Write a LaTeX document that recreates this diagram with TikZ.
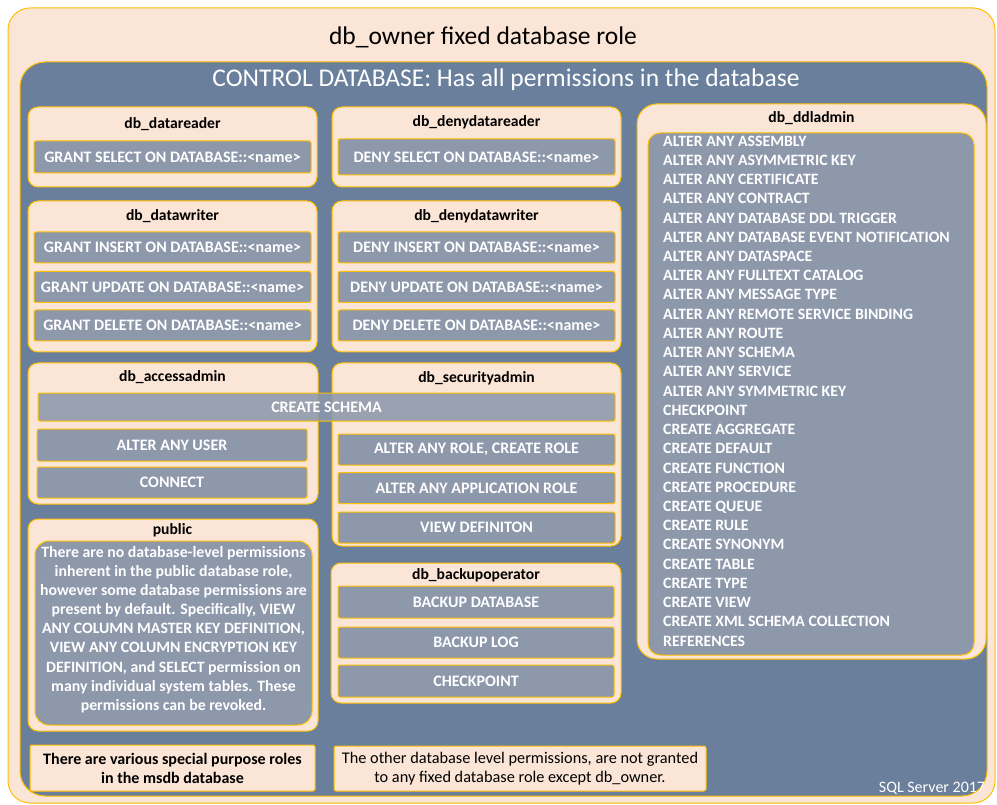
\documentclass[tikz,border=0pt]{standalone}
\usepackage{fontspec}
\setmainfont{Carlito}
\definecolor{peach}{HTML}{FBE5D6}
\definecolor{gold}{HTML}{FFC000}
\definecolor{slate}{HTML}{6A7F9C}
\definecolor{itemgray}{HTML}{8D98AB}
\tikzset{
  rolebox/.style={draw=gold, fill=peach, line width=1pt, rounded corners=10pt},
  rolename/.style={font=\bfseries\fontsize{15.6}{18}\selectfont, inner sep=0pt},
  permbox/.style={draw=gold, fill=itemgray, line width=1pt, rounded corners=2pt,
    text=white, font=\bfseries\fontsize{16}{18}\selectfont, inner sep=0pt,
    minimum width=277pt, minimum height=31pt},
  notebox/.style={draw=gold, fill=peach, line width=1pt, rounded corners=2pt,
    align=center, inner sep=0pt},
}
\begin{document}
\begin{tikzpicture}[x=1pt, y=-1pt]
  \useasboundingbox (0,0) rectangle (997,805);
  \fill[white] (0,0) rectangle (997,805);
  % outer db_owner frame
  \draw[rolebox, rounded corners=22pt] (8,8) rectangle (995,803);
  \node[font=\fontsize{25.5}{30}\selectfont] (owner) at (483,37) {db\_owner  fixed  database  role};
  \draw[draw=gold, fill=slate, line width=1pt, rounded corners=25pt] (20,62) rectangle (987,796);
  \node[text=white, font=\fontsize{25.5}{30}\selectfont] (control) at (506,80) {CONTROL DATABASE:  Has all  permissions  in  the database};

  % db_datareader
  \draw[rolebox] (28,107) rectangle (317,187);
  \node[rolename] (reader) at (172.5,124) {db\_datareader};
  \node[permbox, minimum height=32pt] (grsel) at (172.5,157) {GRANT SELECT  ON  DATABASE::<name>};

  % db_denydatareader
  \draw[rolebox] (332,107) rectangle (621,187);
  \node[rolename] (denyreader) at (476.5,122) {db\_denydatareader};
  \node[permbox, minimum height=36pt] (dnsel) at (476.5,157) {DENY SELECT ON  DATABASE::<name>};

  % db_datawriter
  \draw[rolebox] (28,201) rectangle (317,352);
  \node[rolename] (writer) at (172.5,216) {db\_datawriter};
  \node[permbox] (grins) at (172.5,247.5) {GRANT INSERT  ON DATABASE::<name>};
  \node[permbox] (grupd) at (172.5,287) {GRANT UPDATE  ON DATABASE::<name>};
  \node[permbox] (grdel) at (172.5,325.5) {GRANT DELETE  ON DATABASE::<name>};

  % db_denydatawriter
  \draw[rolebox] (332,201) rectangle (621,352);
  \node[rolename] (denywriter) at (476.5,216) {db\_denydatawriter};
  \node[permbox] (dnins) at (476.5,247.5) {DENY INSERT  ON DATABASE::<name>};
  \node[permbox] (dnupd) at (476.5,287) {DENY UPDATE  ON DATABASE::<name>};
  \node[permbox] (dndel) at (476.5,325.5) {DENY DELETE  ON DATABASE::<name>};

  % db_accessadmin
  \draw[rolebox] (28,363) rectangle (318,504);
  \node[rolename] (access) at (172.5,377) {db\_accessadmin};
  \node[permbox, minimum width=270pt, minimum height=32pt] (altuser) at (172,445) {ALTER ANY USER};
  \node[permbox, minimum width=270pt] (connect) at (172,482.5) {CONNECT};

  % db_securityadmin
  \draw[rolebox] (332,363) rectangle (621,546);
  \node[rolename] (security) at (476.5,378) {db\_securityadmin};
  \node[permbox] (altrole) at (476.5,449.5) {ALTER ANY ROLE,  CREATE  ROLE};
  \node[permbox] (altapp) at (476.5,488) {ALTER ANY APPLICATION  ROLE};
  \node[permbox] (viewdef) at (476.5,527.5) {VIEW  DEFINITON};

  % shared by accessadmin and securityadmin
  \node[permbox, fill opacity=0.88, text opacity=1, minimum width=577pt, minimum height=28pt] (schema) at (326.5,407) {CREATE  SCHEMA};

  % public
  \draw[rolebox] (28,519) rectangle (318,731);
  \node[rolename] (public) at (172.5,530) {public};
  \draw[draw=gold, fill=itemgray, line width=1pt, rounded corners=14pt] (35,541) rectangle (312,725);
  \node[align=center, text=white, font=\bfseries\fontsize{15.8}{19.1}\selectfont] (pubtext) at (173.5,629.5)
    {There are no database-level  permissions\\ inherent in the public  database  role,\\
     however some database permissions are\\ present by default. Specifically,  VIEW\\
     ANY COLUMN  MASTER  KEY DEFINITION,\\ VIEW ANY COLUMN  ENCRYPTION  KEY\\
     DEFINITION,  and SELECT  permission on\\ many individual  system tables. These\\
     permissions can be revoked.};

  % db_backupoperator
  \draw[rolebox] (331,563) rectangle (621,703);
  \node[rolename] (backup) at (476,575) {db\_backupoperator};
  \node[permbox, minimum width=276pt, minimum height=32pt] (bkdb) at (476,602) {BACKUP  DATABASE};
  \node[permbox, minimum width=276pt] (bklog) at (476,642.5) {BACKUP  LOG};
  \node[permbox, minimum width=276pt, minimum height=32pt] (chkpt) at (476,681) {CHECKPOINT};

  % db_ddladmin
  \draw[rolebox, rounded corners=20pt] (637,104) rectangle (986,659);
  \node[rolename] (ddl) at (811.5,118) {db\_ddladmin};
  \draw[draw=gold, fill=itemgray, line width=1pt, rounded corners=12pt] (648,133) rectangle (974,655);
  \node[anchor=west, align=left, inner sep=0pt, text=white, font=\bfseries\fontsize{15.8}{19.23}\selectfont] (ddllist) at (663,391)
    {ALTER ANY ASSEMBLY\\ ALTER ANY ASYMMETRIC  KEY\\ ALTER ANY CERTIFICATE\\ ALTER ANY CONTRACT\\
     ALTER ANY DATABASE  DDL TRIGGER\\ ALTER ANY DATABASE  EVENT  NOTIFICATION\\ ALTER ANY DATASPACE\\
     ALTER ANY FULLTEXT  CATALOG\\ ALTER ANY MESSAGE  TYPE\\ ALTER ANY REMOTE  SERVICE  BINDING\\
     ALTER ANY ROUTE\\ ALTER ANY SCHEMA\\ ALTER ANY SERVICE\\ ALTER ANY SYMMETRIC  KEY\\ CHECKPOINT\\
     CREATE  AGGREGATE\\ CREATE  DEFAULT\\ CREATE  FUNCTION\\ CREATE  PROCEDURE\\ CREATE  QUEUE\\
     CREATE  RULE\\ CREATE  SYNONYM\\ CREATE  TABLE\\ CREATE  TYPE\\ CREATE  VIEW\\
     CREATE  XML  SCHEMA  COLLECTION\\ REFERENCES};

  % notes
  \node[notebox, minimum width=285pt, minimum height=46pt, font=\bfseries\fontsize{16}{19}\selectfont] (msdb) at (172.5,768)
    {There are various special  purpose roles\\ in the msdb database};
  \node[notebox, minimum width=372pt, minimum height=45pt, font=\fontsize{16.3}{19}\selectfont] (others) at (520,768.5)
    {The other database level permissions, are not granted\\ to any fixed database  role except db\_owner.};
  \node[text=white, font=\fontsize{16}{18}\selectfont] (version) at (932,788) {SQL Server 2017};
\end{tikzpicture}
\end{document}
